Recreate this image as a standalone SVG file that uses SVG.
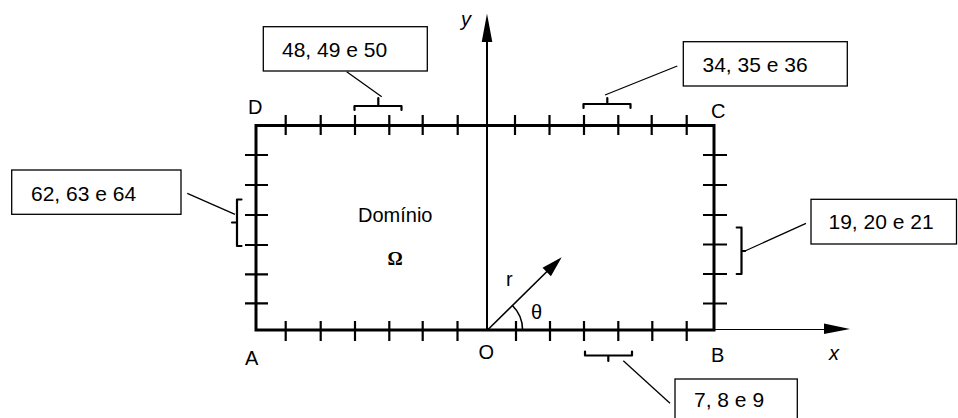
<svg xmlns="http://www.w3.org/2000/svg" width="958" height="418" viewBox="0 0 958 418">
<style>
.lbl{font-family:"Liberation Sans",Arial,sans-serif;font-size:20px;fill:#000}
.box text{font-family:"Liberation Sans",Arial,sans-serif;font-size:21px;fill:#000}
.box rect{fill:#fff;stroke:#000;stroke-width:1.3}
.lead{stroke:#000;stroke-width:1.3;fill:none}
.brk{stroke:#000;stroke-width:2.2;fill:none;stroke-linejoin:round;stroke-linecap:round}
.tick{stroke:#000;stroke-width:2.2;fill:none}
.edge{stroke:#000;stroke-width:3;fill:none}
.ax{stroke:#000;fill:none}
</style>
<rect width="958" height="418" fill="#fff"/>

<g id="domain">
  <rect class="edge" x="256" y="125.5" width="458" height="204.5"/>
  <g class="tick">
    <path d="M285.7,115V135M320.7,115V135M355,115V135M389.3,115V135M422.7,115V135M457.7,115V135M515,115V135M549.5,115V135M584,115V135M618.3,115V135M651.7,115V135M686.7,115V135"/>
    <path d="M285.7,321V341M320.7,321V341M355,321V341M389.3,321V341M422.7,321V341M457.5,321V341M516,321V341M550,321V341M584,321V341M618.3,321V341M652.3,321V341M686.7,321V341"/>
    <path d="M245,155H268M245,185H268M245,215H268M245,245H268M245,274.3H268M245,303.3H268"/>
    <path d="M703,155H727M703,185H727M703,215H727M703,244.5H727M703,274H727M703,303.5H727"/>
  </g>
  <text class="lbl" x="358" y="222">Domínio</text>
  <text x="387.5" y="264.5" style="font-family:'Liberation Serif','Times New Roman',serif;font-size:19px;font-weight:bold;fill:#000">Ω</text>
  <text class="lbl" x="248" y="113.5">D</text>
  <text class="lbl" x="711" y="117.5">C</text>
  <text class="lbl" x="245" y="365">A</text>
  <text class="lbl" x="711" y="361.5">B</text>
  <text class="lbl" x="478.5" y="358.5">O</text>
</g>

<g id="axes">
  <path class="ax" stroke-width="2" d="M487,40V330"/>
  <polygon points="487,13.5 481.7,42 492.3,42" fill="#000"/>
  <text class="lbl" x="461" y="25.5" font-style="italic">y</text>
  <path class="ax" stroke-width="1.2" d="M714,329.5H826"/>
  <polygon points="850,329 824,323.5 824,334" fill="#000"/>
  <text class="lbl" x="829" y="360" font-style="italic">x</text>
</g>

<g id="polar">
  <path class="ax" stroke-width="1.6" d="M487.5,330L548,270.5"/>
  <polygon points="561.7,257.3 550.9,276.3 542.5,267.7" fill="#000"/>
  <path class="ax" stroke-width="1.6" d="M512.2,305.3A35,35 0 0 1 522.6,330"/>
  <text class="lbl" x="506" y="285.5">r</text>
  <text class="lbl" x="531" y="318.5">θ</text>
</g>

<g id="connectors">
  <path class="lead" d="M346.7,71.7L381.7,96.7"/>
  <path class="lead" d="M605,95L677.3,66"/>
  <path class="lead" d="M187.3,193.3L235,214.3"/>
  <path class="lead" d="M745,251L806,223.3"/>
  <path class="lead" d="M623.3,360.7L670,403.3"/>
  <path class="brk" d="M354.5,110V106H401.5V110M378.3,106V98"/>
  <path class="brk" d="M583.5,108V104H630.5V108M607.3,104V98"/>
  <path class="brk" d="M585,351.5V355.5H632V351.5M608.3,355.5V361"/>
  <path class="brk" d="M241.5,199.5H237V246H241.5M237,222.5H232"/>
  <path class="brk" d="M736.7,227.5H741.5V274H736.7M741.5,251H745"/>
</g>

<g id="label-48-49-50" class="box">
  <rect x="263.3" y="26.7" width="164" height="44.3"/>
  <text x="282" y="56.7">48, 49 e 50</text>
</g>
<g id="label-34-35-36" class="box">
  <rect x="683.3" y="41.7" width="164" height="44.3"/>
  <text x="702.5" y="71.7">34, 35 e 36</text>
</g>
<g id="label-62-63-64" class="box">
  <rect x="11.7" y="170" width="169.3" height="44.3"/>
  <text x="31" y="200.7">62, 63 e 64</text>
</g>
<g id="label-19-20-21" class="box">
  <rect x="811" y="199.3" width="145.5" height="44.7"/>
  <text x="828.5" y="229.3">19, 20 e 21</text>
</g>
<g id="label-7-8-9" class="box">
  <rect x="675" y="379" width="122.3" height="44.3"/>
  <text x="694" y="407.3">7, 8 e 9</text>
</g>
</svg>
